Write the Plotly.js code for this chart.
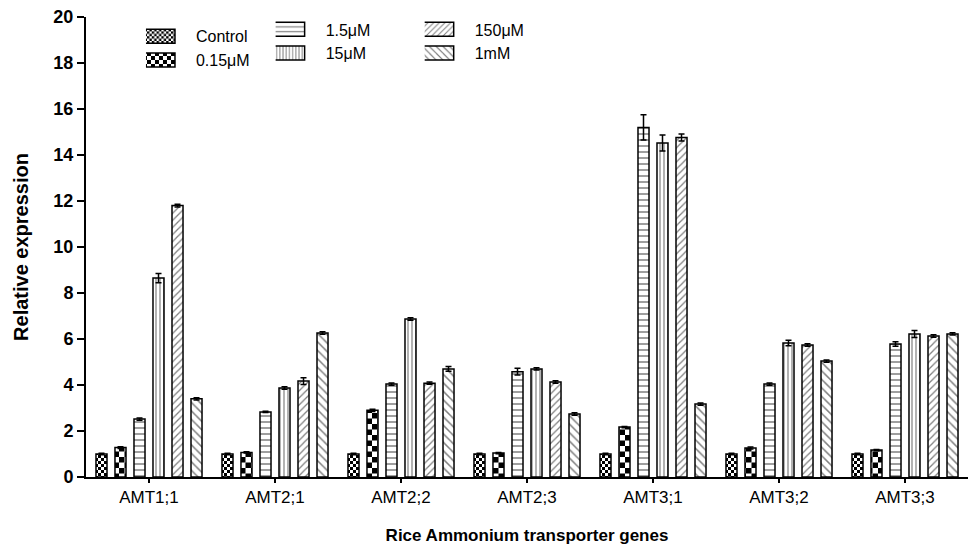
<!DOCTYPE html>
<html>
<head>
<meta charset="utf-8">
<script src="https://cdn.plot.ly/plotly-3.0.1.min.js"></script>
<style>html,body{margin:0;padding:0;background:#fff;}#chart{width:979px;height:551px;}</style>
</head>
<body>
<div id="chart"></div>
<script>
var genes = ['AMT1;1','AMT2;1','AMT2;2','AMT2;3','AMT3;1','AMT3;2','AMT3;3'];
var seriesNames = ['Control','0.15μM','1.5μM','15μM','150μM','1mM'];
var control = [1.0, 1.0, 1.0, 1.0, 1.0, 1.0, 1.0];
var conc015uM = [1.28, 1.07, 2.90, 1.04, 2.17, 1.26, 1.17];
var conc15uMlow = [2.52, 2.83, 4.04, 4.58, 15.20, 4.04, 5.78];
var conc15uM = [8.65, 3.87, 6.87, 4.70, 14.52, 5.83, 6.22];
var conc150uM = [11.80, 4.17, 4.08, 4.13, 14.76, 5.74, 6.13];
var conc1mM = [3.40, 6.26, 4.70, 2.74, 3.17, 5.04, 6.22];
var errControl = [0.03, 0.03, 0.03, 0.03, 0.03, 0.03, 0.03];
var err015uM = [0.04, 0.03, 0.05, 0.03, 0.03, 0.04, 0.03];
var err15uMlow = [0.05, 0.03, 0.05, 0.15, 0.55, 0.05, 0.10];
var err15uM = [0.20, 0.05, 0.05, 0.05, 0.35, 0.12, 0.15];
var err150uM = [0.06, 0.15, 0.05, 0.05, 0.15, 0.05, 0.05];
var err1mM = [0.05, 0.05, 0.10, 0.05, 0.05, 0.05, 0.05];

var values = [control, conc015uM, conc15uMlow, conc15uM, conc150uM, conc1mM];
var errs = [errControl, err015uM, err15uMlow, err15uM, err150uM, err1mM];
var patterns = [
  {shape: '.', size: 6, solidity: 0.3},
  {shape: '.', size: 11, solidity: 0.3},
  {shape: '-', size: 6, solidity: 0.25},
  {shape: '|', size: 4, solidity: 0.3},
  {shape: '/', size: 5, solidity: 0.25},
  {shape: '\\', size: 6, solidity: 0.25}
];
var legends = ['legend','legend','legend2','legend2','legend3','legend3'];

var traces = values.map(function(v, i){
  return {
    type: 'bar', x: genes, y: v, name: seriesNames[i], legend: legends[i],
    marker: {color: '#ffffff', line: {color: '#000', width: 1.5},
      pattern: {shape: patterns[i].shape, size: patterns[i].size, solidity: patterns[i].solidity, fgcolor: '#000', bgcolor: '#fff', fillmode: 'overlay'}},
    error_y: {type: 'data', array: errs[i], visible: true, color: '#000', thickness: 1.5, width: 3}
  };
});

var legendBase = {font: {family: 'Liberation Sans, Arial, sans-serif', size: 16, color: '#000'},
  bgcolor: 'rgba(0,0,0,0)', borderwidth: 0, xanchor: 'left', yanchor: 'top', itemwidth: 40, tracegroupgap: 0};

var layout = {
  width: 979, height: 551,
  margin: {l: 86, r: 11, t: 17, b: 74},
  paper_bgcolor: '#fff', plot_bgcolor: '#fff',
  barmode: 'group', bargap: 0.095, bargroupgap: 0.42,
  font: {family: 'Liberation Sans, Arial, sans-serif', color: '#000'},
  xaxis: {
    type: 'category', range: [-0.5, 6.5], showline: true, linecolor: '#000', linewidth: 2,
    ticks: 'outside', ticklen: 4, tickwidth: 1.5, tickcolor: '#000', showgrid: false, zeroline: false,
    tickfont: {size: 17, family: 'Liberation Sans, Arial, sans-serif'},
    title: {text: '<b>Rice Ammonium transporter genes</b>', font: {size: 17}, standoff: 23}
  },
  yaxis: {
    range: [0, 20], dtick: 2, showline: true, linecolor: '#000', linewidth: 2,
    ticks: 'outside', ticklen: 7, tickwidth: 1.5, tickcolor: '#000', showgrid: false, zeroline: false,
    tickfont: {size: 18, family: 'Liberation Sans, Arial, sans-serif', weight: 'bold'},
    title: {text: '<b>Relative expression</b>', font: {size: 20}, standoff: 19}
  },
  legend: Object.assign({}, legendBase, {x: 0.068, y: 0.995}),
  legend2: Object.assign({}, legendBase, {x: 0.215, y: 1.01}),
  legend3: Object.assign({}, legendBase, {x: 0.384, y: 1.01}),
  showlegend: true
};

Plotly.newPlot('chart', traces, layout, {displayModeBar: false, staticPlot: true}).then(function(){
  var NS = 'http://www.w3.org/2000/svg';
  document.querySelectorAll('pattern').forEach(function(p){
    var c = p.querySelector('circle');
    if(!c) return;
    var s = parseFloat(p.getAttribute('width'));
    c.parentNode.removeChild(c);
    var h = s / 2;
    [[0,0],[h,h]].forEach(function(o){
      var r = document.createElementNS(NS, 'rect');
      r.setAttribute('x', o[0]); r.setAttribute('y', o[1]);
      r.setAttribute('width', h); r.setAttribute('height', h);
      r.setAttribute('fill', '#000');
      p.appendChild(r);
    });
  });
  document.querySelectorAll('.legendpoints path').forEach(function(pth){
    pth.setAttribute('d', 'M4,7H-34V-7H4Z');
  });
});
</script>
</body>
</html>
